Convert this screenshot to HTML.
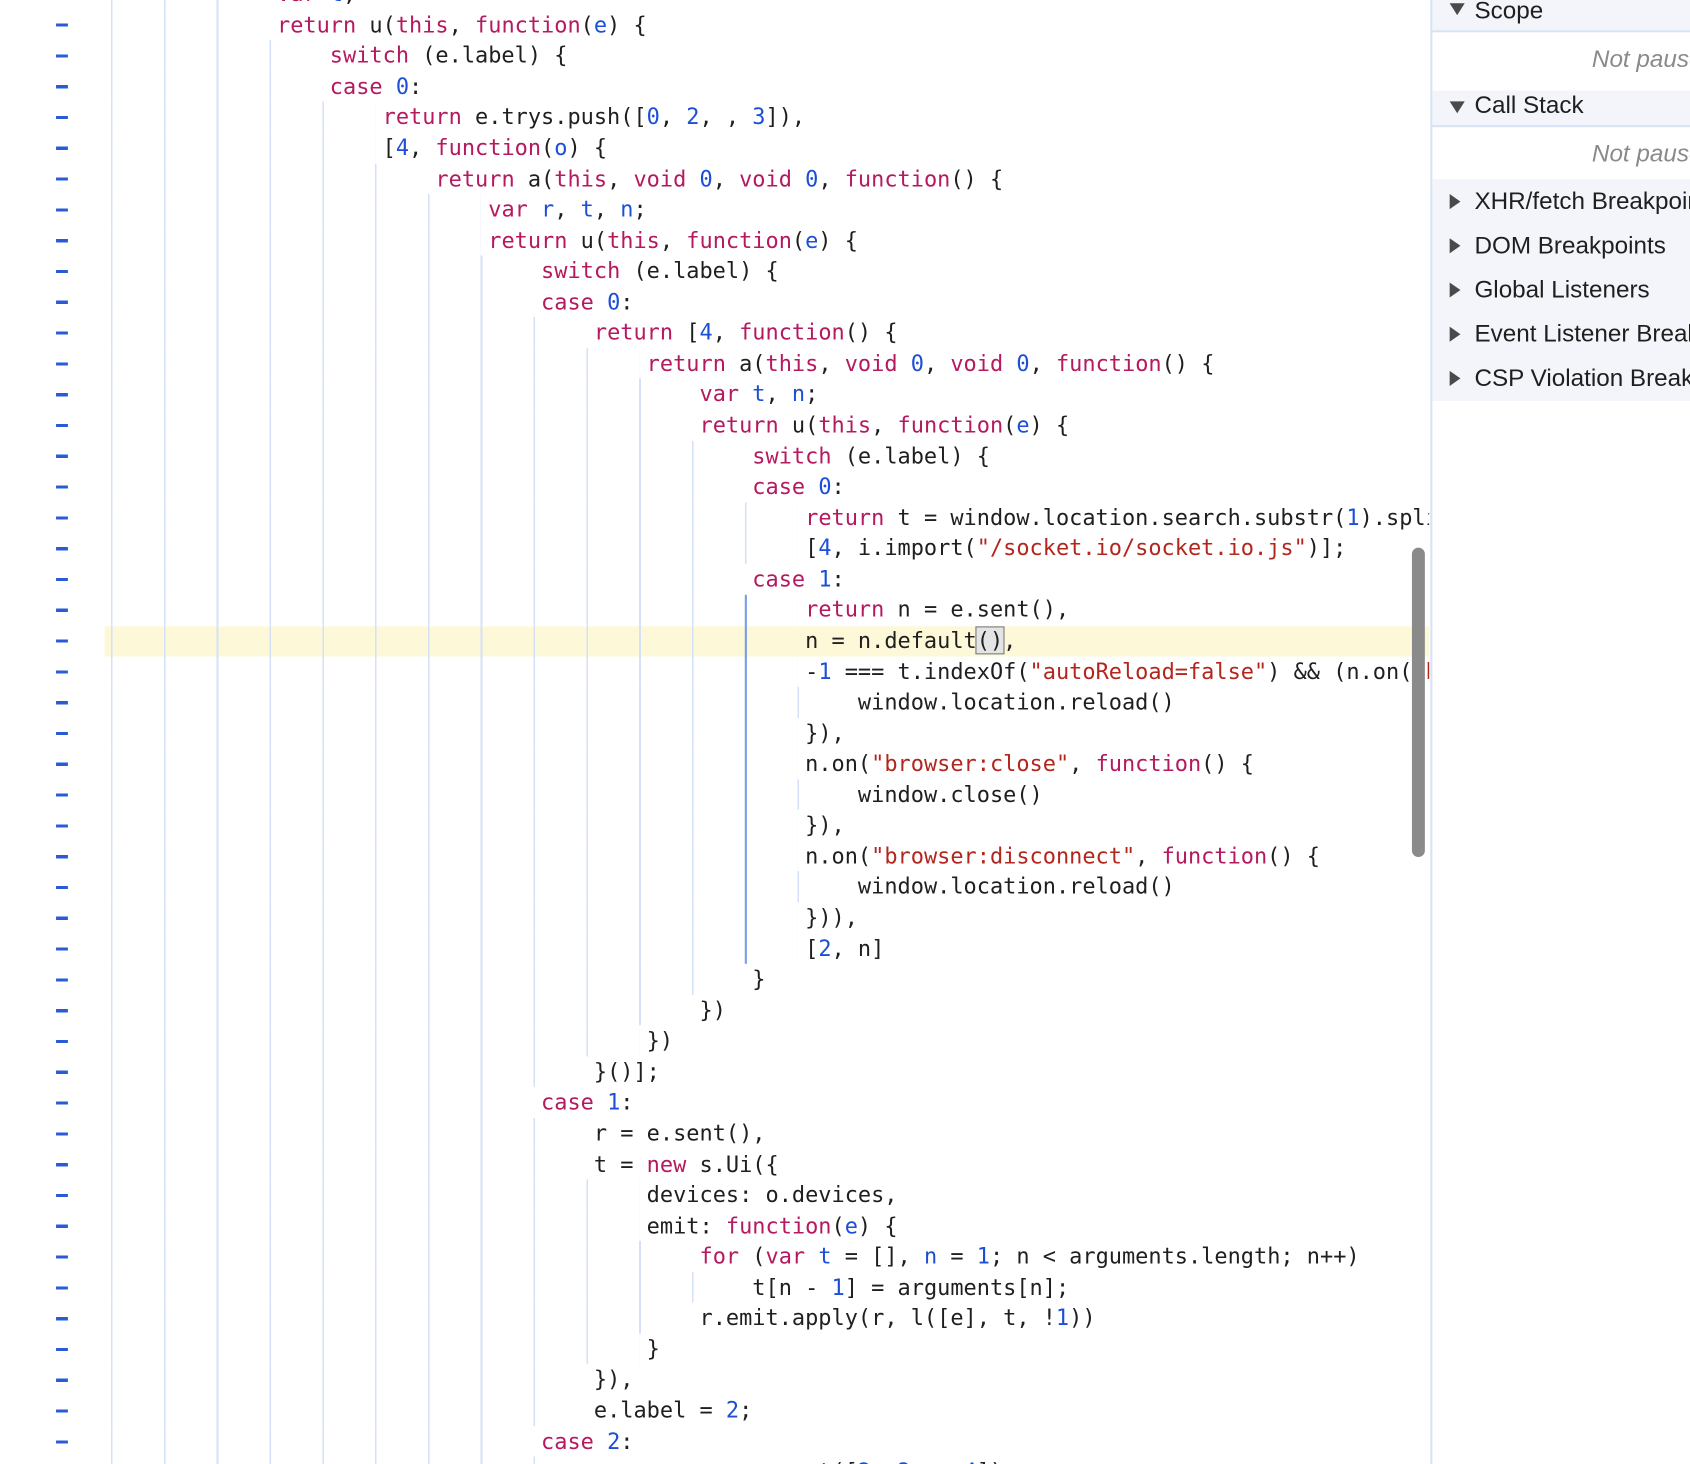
<!DOCTYPE html>
<html><head><meta charset="utf-8"><style>
html,body{margin:0;padding:0;background:#fff;overflow:hidden;width:1690px;height:1464px}
#wrap{position:absolute;left:0;top:0;width:1568px;height:1358px;transform:scale(1.07781,1.07806);transform-origin:0 0;overflow:hidden}
#code{position:absolute;left:0;top:0;width:1326px;height:1358px;overflow:hidden}
#lines{position:absolute;left:0;top:-19.87px;width:1326px}
.ln{position:relative;height:28.57px;width:1326px}
.gs{position:absolute;left:103px;top:0;height:28.57px;background:repeating-linear-gradient(to right,#d5e1f7 0,#d5e1f7 1.5px,transparent 1.5px,transparent 49px)}
.t{position:absolute;top:0;line-height:28.57px;font-family:"DejaVu Sans Mono","Liberation Mono",monospace;font-size:20.35px;color:#1f1f1f;white-space:pre}
#dash{position:absolute;left:52px;width:11px;top:8.7px;height:1342.8px;background:repeating-linear-gradient(to bottom,transparent 0,transparent 12.8px,#2a5bd7 12.8px,#2a5bd7 15.8px,transparent 15.8px,transparent 28.57px)}
#dg{position:absolute;left:691px;top:551.5px;width:1.8px;height:342.8px;background:#7d9ee6}
.k{color:#b5195f}.n{color:#1c4fd8}.s{color:#b3261e}.v{color:#1c4fd8}
#hl{position:absolute;left:97px;width:1229px;top:580.7px;height:28.57px;background:#fcf8d8}
#sb{position:absolute;left:1310px;top:508px;width:12px;height:287px;background:#8a8a8a;border-radius:6px}
#panel{position:absolute;left:1327px;top:0;width:241px;height:1358px;border-left:2px solid #d8e3f6;background:#fff;font-family:"Liberation Sans",sans-serif;font-size:22.5px;color:#1f1f1f}
.hd{position:absolute;left:0;width:241px;background:#f3f5fa}
.hd span{position:absolute;left:39px;white-space:nowrap}
.tri{position:absolute;left:16px;width:0;height:0}
.down{border-left:7px solid transparent;border-right:7px solid transparent;border-top:11px solid #4a4a4a}
.right{border-top:7px solid transparent;border-bottom:7px solid transparent;border-left:10px solid #4a4a4a}
.np{position:absolute;left:148px;color:#8a8a8a;font-style:italic;white-space:nowrap}
.bl{position:absolute;left:0;width:241px;height:2px;background:#d8e3f6}
.cur{outline:1.5px solid #777;background:#e4e4e4}
</style></head><body><div id="wrap">
<div id="code">
<div id="hl"></div>
<div id="dash"></div>
<div id="lines">
<div class="ln"><div class="gs" style="width:147px"></div><div class="t" style="left:257px"><span class="k">var</span> <span class="v">t</span>,</div></div>
<div class="ln"><div class="gs" style="width:147px"></div><div class="t" style="left:257px"><span class="k">return</span> u(<span class="k">this</span>, <span class="k">function</span>(<span class="v">e</span>) {</div></div>
<div class="ln"><div class="gs" style="width:196px"></div><div class="t" style="left:306px"><span class="k">switch</span> (e.label) {</div></div>
<div class="ln"><div class="gs" style="width:196px"></div><div class="t" style="left:306px"><span class="k">case</span> <span class="n">0</span>:</div></div>
<div class="ln"><div class="gs" style="width:245px"></div><div class="t" style="left:355px"><span class="k">return</span> e.trys.push([<span class="n">0</span>, <span class="n">2</span>, , <span class="n">3</span>]),</div></div>
<div class="ln"><div class="gs" style="width:245px"></div><div class="t" style="left:355px">[<span class="n">4</span>, <span class="k">function</span>(<span class="v">o</span>) {</div></div>
<div class="ln"><div class="gs" style="width:294px"></div><div class="t" style="left:404px"><span class="k">return</span> a(<span class="k">this</span>, <span class="k">void</span> <span class="n">0</span>, <span class="k">void</span> <span class="n">0</span>, <span class="k">function</span>() {</div></div>
<div class="ln"><div class="gs" style="width:343px"></div><div class="t" style="left:453px"><span class="k">var</span> <span class="v">r</span>, <span class="v">t</span>, <span class="v">n</span>;</div></div>
<div class="ln"><div class="gs" style="width:343px"></div><div class="t" style="left:453px"><span class="k">return</span> u(<span class="k">this</span>, <span class="k">function</span>(<span class="v">e</span>) {</div></div>
<div class="ln"><div class="gs" style="width:392px"></div><div class="t" style="left:502px"><span class="k">switch</span> (e.label) {</div></div>
<div class="ln"><div class="gs" style="width:392px"></div><div class="t" style="left:502px"><span class="k">case</span> <span class="n">0</span>:</div></div>
<div class="ln"><div class="gs" style="width:441px"></div><div class="t" style="left:551px"><span class="k">return</span> [<span class="n">4</span>, <span class="k">function</span>() {</div></div>
<div class="ln"><div class="gs" style="width:490px"></div><div class="t" style="left:600px"><span class="k">return</span> a(<span class="k">this</span>, <span class="k">void</span> <span class="n">0</span>, <span class="k">void</span> <span class="n">0</span>, <span class="k">function</span>() {</div></div>
<div class="ln"><div class="gs" style="width:539px"></div><div class="t" style="left:649px"><span class="k">var</span> <span class="v">t</span>, <span class="v">n</span>;</div></div>
<div class="ln"><div class="gs" style="width:539px"></div><div class="t" style="left:649px"><span class="k">return</span> u(<span class="k">this</span>, <span class="k">function</span>(<span class="v">e</span>) {</div></div>
<div class="ln"><div class="gs" style="width:588px"></div><div class="t" style="left:698px"><span class="k">switch</span> (e.label) {</div></div>
<div class="ln"><div class="gs" style="width:588px"></div><div class="t" style="left:698px"><span class="k">case</span> <span class="n">0</span>:</div></div>
<div class="ln"><div class="gs" style="width:637px"></div><div class="t" style="left:747px"><span class="k">return</span> t = window.location.search.substr(<span class="n">1</span>).split("&amp;"),</div></div>
<div class="ln"><div class="gs" style="width:637px"></div><div class="t" style="left:747px">[<span class="n">4</span>, i.import(<span class="s">"/socket.io/socket.io.js"</span>)];</div></div>
<div class="ln"><div class="gs" style="width:588px"></div><div class="t" style="left:698px"><span class="k">case</span> <span class="n">1</span>:</div></div>
<div class="ln"><div class="gs" style="width:637px"></div><div class="t" style="left:747px"><span class="k">return</span> n = e.sent(),</div></div>
<div class="ln"><div class="gs" style="width:637px"></div><div class="t" style="left:747px">n = n.default<span class="cur">()</span>,</div></div>
<div class="ln"><div class="gs" style="width:637px"></div><div class="t" style="left:747px">-<span class="n">1</span> === t.indexOf(<span class="s">"autoReload=false"</span>) &amp;&amp; (n.on(<span class="s">"browser:reload"</span>, </div></div>
<div class="ln"><div class="gs" style="width:686px"></div><div class="t" style="left:796px">window.location.reload()</div></div>
<div class="ln"><div class="gs" style="width:637px"></div><div class="t" style="left:747px">}),</div></div>
<div class="ln"><div class="gs" style="width:637px"></div><div class="t" style="left:747px">n.on(<span class="s">"browser:close"</span>, <span class="k">function</span>() {</div></div>
<div class="ln"><div class="gs" style="width:686px"></div><div class="t" style="left:796px">window.close()</div></div>
<div class="ln"><div class="gs" style="width:637px"></div><div class="t" style="left:747px">}),</div></div>
<div class="ln"><div class="gs" style="width:637px"></div><div class="t" style="left:747px">n.on(<span class="s">"browser:disconnect"</span>, <span class="k">function</span>() {</div></div>
<div class="ln"><div class="gs" style="width:686px"></div><div class="t" style="left:796px">window.location.reload()</div></div>
<div class="ln"><div class="gs" style="width:637px"></div><div class="t" style="left:747px">})),</div></div>
<div class="ln"><div class="gs" style="width:637px"></div><div class="t" style="left:747px">[<span class="n">2</span>, n]</div></div>
<div class="ln"><div class="gs" style="width:588px"></div><div class="t" style="left:698px">}</div></div>
<div class="ln"><div class="gs" style="width:539px"></div><div class="t" style="left:649px">})</div></div>
<div class="ln"><div class="gs" style="width:490px"></div><div class="t" style="left:600px">})</div></div>
<div class="ln"><div class="gs" style="width:441px"></div><div class="t" style="left:551px">}()];</div></div>
<div class="ln"><div class="gs" style="width:392px"></div><div class="t" style="left:502px"><span class="k">case</span> <span class="n">1</span>:</div></div>
<div class="ln"><div class="gs" style="width:441px"></div><div class="t" style="left:551px">r = e.sent(),</div></div>
<div class="ln"><div class="gs" style="width:441px"></div><div class="t" style="left:551px">t = <span class="k">new</span> s.Ui({</div></div>
<div class="ln"><div class="gs" style="width:490px"></div><div class="t" style="left:600px">devices: o.devices,</div></div>
<div class="ln"><div class="gs" style="width:490px"></div><div class="t" style="left:600px">emit: <span class="k">function</span>(<span class="v">e</span>) {</div></div>
<div class="ln"><div class="gs" style="width:539px"></div><div class="t" style="left:649px"><span class="k">for</span> (<span class="k">var</span> <span class="v">t</span> = [], <span class="v">n</span> = <span class="n">1</span>; n &lt; arguments.length; n++)</div></div>
<div class="ln"><div class="gs" style="width:588px"></div><div class="t" style="left:698px">t[n - <span class="n">1</span>] = arguments[n];</div></div>
<div class="ln"><div class="gs" style="width:539px"></div><div class="t" style="left:649px">r.emit.apply(r, l([e], t, !<span class="n">1</span>))</div></div>
<div class="ln"><div class="gs" style="width:490px"></div><div class="t" style="left:600px">}</div></div>
<div class="ln"><div class="gs" style="width:441px"></div><div class="t" style="left:551px">}),</div></div>
<div class="ln"><div class="gs" style="width:441px"></div><div class="t" style="left:551px">e.label = <span class="n">2</span>;</div></div>
<div class="ln"><div class="gs" style="width:392px"></div><div class="t" style="left:502px"><span class="k">case</span> <span class="n">2</span>:</div></div>
<div class="ln"><div class="gs" style="width:441px"></div><div class="t" style="left:551px">                 t([<span class="n">2</span>, <span class="n">3</span>, , <span class="n">4</span>])</div></div>
</div>
<div id="dg"></div>
</div>
<div id="sb"></div>
<div id="panel">
 <div class="hd" style="top:-12px;height:40px"><div class="tri down" style="top:15px"></div><span style="top:9px">Scope</span></div>
 <div class="bl" style="top:28px"></div>
 <div class="np" style="top:42px">Not paused</div>
 <div class="hd" style="top:84px;height:32px"><div class="tri down" style="top:10px"></div><span style="top:1px">Call Stack</span></div>
 <div class="bl" style="top:116px"></div>
 <div class="np" style="top:130px">Not paused</div>
 <div class="hd" style="top:166px;height:206px">
  <div class="tri right" style="top:14px"></div><span style="top:8px">XHR/fetch Breakpoints</span>
  <div class="tri right" style="top:55px"></div><span style="top:49px">DOM Breakpoints</span>
  <div class="tri right" style="top:96px"></div><span style="top:90px">Global Listeners</span>
  <div class="tri right" style="top:137px"></div><span style="top:131px">Event Listener Breakpoints</span>
  <div class="tri right" style="top:178px"></div><span style="top:172px">CSP Violation Breakpoints</span>
 </div>
</div>
</div>
</body></html>
